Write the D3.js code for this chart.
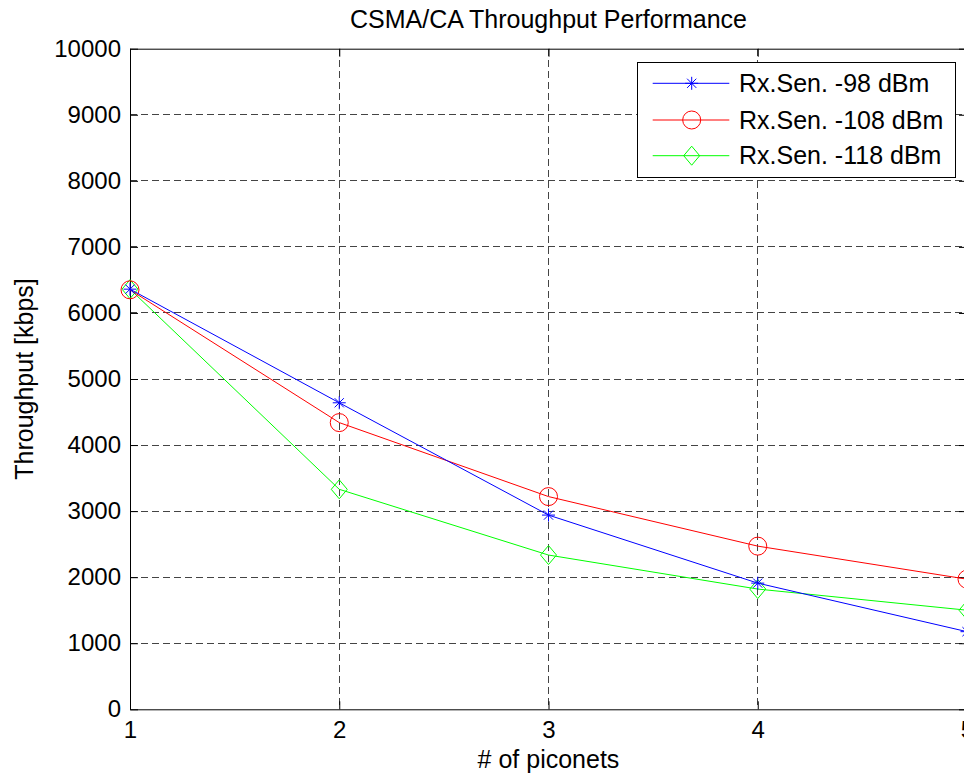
<!DOCTYPE html>
<html>
<head>
<meta charset="utf-8">
<script src="https://cdn.jsdelivr.net/npm/d3@7"></script>
<style>
  body { margin: 0; background: #fff; }
  text { font-family: "Liberation Sans", Arial, sans-serif; fill: #000; }
</style>
</head>
<body>
<div id="chart"></div>
<script>
// values
const piconets = [1, 2, 3, 4, 5];
const sen98 = [6360, 4640, 2940, 1910, 1175];
const sen108 = [6350, 4340, 3220, 2470, 1970];
const sen118 = [6360, 3330, 2335, 1820, 1500];
const yTicks = [0, 1000, 2000, 3000, 4000, 5000, 6000, 7000, 8000, 9000, 10000];
const seriesNames = ["Rx.Sen. -98 dBm", "Rx.Sen. -108 dBm", "Rx.Sen. -118 dBm"];

const W = 964, H = 780;
const box = { left: 130, right: 967, top: 48.7, bottom: 709.3 };
const fontSize = 24;
const labelSize = 25;

const svg = d3.select("#chart").append("svg")
    .attr("width", W)
    .attr("height", H)
    .style("display", "block");

const x = d3.scaleLinear().domain([1, 5]).range([box.left, box.right]);
const y = d3.scaleLinear().domain([0, 10000]).range([box.bottom, box.top]);

// dashed grid
const grid = svg.append("g").attr("class", "grid");
grid.selectAll("line.gx")
    .data(piconets.slice(1, -1))
    .enter().append("line")
    .attr("x1", d => x(d)).attr("x2", d => x(d))
    .attr("y1", box.top).attr("y2", box.bottom);
grid.selectAll("line.gy")
    .data(yTicks.slice(1, -1))
    .enter().append("line")
    .attr("x1", box.left).attr("x2", box.right)
    .attr("y1", d => y(d)).attr("y2", d => y(d));
grid.selectAll("line")
    .attr("stroke", "#444")
    .attr("stroke-width", 1)
    .attr("stroke-dasharray", "7,4")
    .attr("shape-rendering", "crispEdges");

// axes, ticks pointing inward like matlab
const tick = 8;
const styleAxis = g => {
    g.select(".domain").attr("stroke", "#000");
    g.selectAll(".tick line").attr("stroke", "#000");
    g.selectAll("text").style("font-size", fontSize + "px").attr("fill", "#000");
    g.attr("font-family", null);
};

svg.append("g")
    .attr("transform", `translate(0,${box.bottom})`)
    .call(d3.axisBottom(x).tickValues(piconets).tickFormat(d3.format("d"))
        .tickSizeInner(-tick).tickSizeOuter(0).tickPadding(12))
    .call(styleAxis);

svg.append("g")
    .attr("transform", `translate(${box.left},0)`)
    .call(d3.axisLeft(y).tickValues(yTicks).tickFormat(d3.format("d"))
        .tickSizeInner(-tick).tickSizeOuter(0).tickPadding(9))
    .call(styleAxis);

svg.append("g")
    .attr("transform", `translate(0,${box.top})`)
    .call(d3.axisTop(x).tickValues(piconets).tickFormat("")
        .tickSizeInner(-tick).tickSizeOuter(0))
    .call(styleAxis);

svg.append("g")
    .attr("transform", `translate(${box.right},0)`)
    .call(d3.axisRight(y).tickValues(yTicks).tickFormat("")
        .tickSizeInner(-tick).tickSizeOuter(0))
    .call(styleAxis);

// markers
function drawMarker(g, kind, color) {
    if (kind === "star") {
        const a = 6.5, b = 4.6;
        g.append("path")
            .attr("d", `M${-a},0H${a}M0,${-a}V${a}M${-b},${-b}L${b},${b}M${-b},${b}L${b},${-b}`)
            .attr("stroke", color).attr("fill", "none");
    } else if (kind === "circle") {
        g.append("circle").attr("r", 9)
            .attr("stroke", color).attr("fill", "none");
    } else {
        g.append("path")
            .attr("d", "M0,-9.5L8,0L0,9.5L-8,0Z")
            .attr("stroke", color).attr("fill", "none");
    }
}

const series = [
    { name: seriesNames[0], values: sen98, color: "#0000ff", marker: "star" },
    { name: seriesNames[1], values: sen108, color: "#ff0000", marker: "circle" },
    { name: seriesNames[2], values: sen118, color: "#00ff00", marker: "diamond" }
];

const line = d3.line()
    .x((d, i) => x(piconets[i]))
    .y(d => y(d));

series.slice().reverse().forEach(s => {
    const g = svg.append("g");
    g.append("path")
        .datum(s.values)
        .attr("d", line)
        .attr("fill", "none")
        .attr("stroke", s.color)
        .attr("stroke-width", 1);
    s.values.forEach((v, i) => {
        const m = g.append("g").attr("transform", `translate(${x(piconets[i])},${y(v)})`);
        drawMarker(m, s.marker, s.color);
    });
});

// legend
const legend = svg.append("g");
legend.append("rect")
    .attr("x", 637.5).attr("y", 62.5)
    .attr("width", 318).attr("height", 115)
    .attr("fill", "#fff").attr("stroke", "#000");
const rowY = [83.3, 120, 155.7];
series.forEach((s, i) => {
    const r = legend.append("g").attr("transform", `translate(0,${rowY[i]})`);
    r.append("line")
        .attr("x1", 652.7).attr("x2", 729.3)
        .attr("stroke", s.color);
    const m = r.append("g").attr("transform", "translate(691.7,0)");
    drawMarker(m, s.marker, s.color);
    r.append("text")
        .attr("x", 739).attr("dy", "0.35em")
        .style("font-size", labelSize + "px")
        .text(s.name);
});

// titles
svg.append("text")
    .attr("x", (box.left + box.right) / 2).attr("y", 28)
    .attr("text-anchor", "middle")
    .style("font-size", labelSize + "px")
    .text("CSMA/CA Throughput Performance");

svg.append("text")
    .attr("x", (box.left + box.right) / 2).attr("y", 768)
    .attr("text-anchor", "middle")
    .style("font-size", labelSize + "px")
    .text("# of piconets");

svg.append("text")
    .attr("transform", `translate(33,${(box.top + box.bottom) / 2}) rotate(-90)`)
    .attr("text-anchor", "middle")
    .style("font-size", labelSize + "px")
    .text("Throughput [kbps]");
</script>
</body>
</html>
